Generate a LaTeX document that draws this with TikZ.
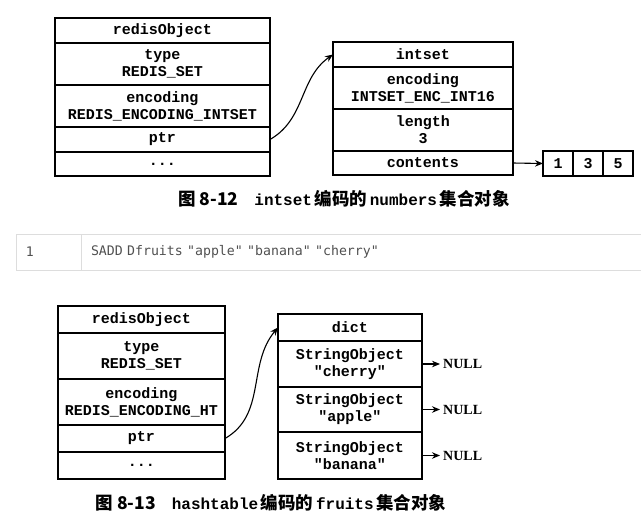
\documentclass[tikz,border=0pt]{standalone}
\usepackage{fontspec}
\setmonofont{Liberation Mono}
\newfontfamily\cjk{Noto Sans CJK SC}
\newfontfamily\codefont{DejaVu Sans Mono}
\newfontfamily\nilfont{Liberation Serif}
\usetikzlibrary{arrows.meta, positioning}
\definecolor{codegray}{HTML}{DDDDDD}
\definecolor{codetext}{HTML}{505050}
\newcommand{\Caption}[1]{{\cjk\bfseries\fontsize{17.5}{19}\selectfont #1}}
\tikzset{
    field/.style={draw, line width=1.3pt, inner sep=0pt, outer sep=0pt, align=center,
      font=\ttfamily\bfseries\fontsize{15}{17}\selectfont},
    codecell/.style={draw=codegray, line width=1pt, inner ysep=0pt, inner xsep=10pt,
      outer sep=0pt, minimum height=36pt, align=left, text=codetext,
      font=\codefont\fontsize{13.2}{15}\selectfont},
    nil/.style={inner sep=3pt, font=\nilfont\bfseries\fontsize{14}{16}\selectfont},
    caption/.style={font=\ttfamily\bfseries\fontsize{16}{18}\selectfont},
}

\begin{document}
\begin{tikzpicture}[x=1pt, y=-1pt, >={Stealth[length=8pt, width=6.5pt]}]
    \useasboundingbox (0,0) rectangle (641,523);

    % intset encoded set
    \node[field, minimum width=215pt, minimum height=25pt, anchor=north west] (o1) at (55,18) {redisObject};
    \node[field, minimum width=215pt, minimum height=42pt, below=0pt of o1] (o1type) {type\\REDIS\_SET};
    \node[field, minimum width=215pt, minimum height=42pt, below=0pt of o1type] (o1enc) {encoding\\REDIS\_ENCODING\_INTSET};
    \node[field, minimum width=215pt, minimum height=25pt, below=0pt of o1enc] (o1ptr) {ptr};
    \node[field, minimum width=215pt, minimum height=24pt, below=0pt of o1ptr] (o1dots) {...};

    \node[field, minimum width=180pt, minimum height=25pt, anchor=north west] (is) at (333,42) {intset};
    \node[field, minimum width=180pt, minimum height=42pt, below=0pt of is] (isenc) {encoding\\INTSET\_ENC\_INT16};
    \node[field, minimum width=180pt, minimum height=42pt, below=0pt of isenc] (islen) {length\\3};
    \node[field, minimum width=180pt, minimum height=24pt, below=0pt of islen] (iscont) {contents};

    \node[field, minimum width=30pt, minimum height=25pt, anchor=north west] (n1) at (543,151) {1};
    \node[field, minimum width=30pt, minimum height=25pt, right=0pt of n1] (n3) {3};
    \node[field, minimum width=30pt, minimum height=25pt, right=0pt of n3] (n5) {5};

    \draw[line width=1.1pt] (o1ptr.east) edge[->, out=30, in=215] (is.west);
    \draw[line width=1.1pt] (iscont.east) edge[->] (n1.west);

    \node[caption] (cap1) at (344,199) {\Caption{图 8-12}\hspace{1em}intset\,\Caption{编码的}\,numbers\,\Caption{集合对象}};

    % command
    \node[codecell, text width=45pt, anchor=north west] (gutter) at (16,234) {1};
    \node[codecell, text width=555pt, right=0pt of gutter] (code) {SADD Dfruits "apple" "banana" "cherry"};

    % hashtable encoded set
    \node[field, minimum width=167pt, minimum height=27pt, anchor=north west] (o2) at (58,306) {redisObject};
    \node[field, minimum width=167pt, minimum height=46pt, below=0pt of o2] (o2type) {type\\REDIS\_SET};
    \node[field, minimum width=167pt, minimum height=46pt, below=0pt of o2type] (o2enc) {encoding\\REDIS\_ENCODING\_HT};
    \node[field, minimum width=167pt, minimum height=27pt, below=0pt of o2enc] (o2ptr) {ptr};
    \node[field, minimum width=167pt, minimum height=27pt, below=0pt of o2ptr] (o2dots) {...};

    \node[field, minimum width=144pt, minimum height=27pt, anchor=north west] (dict) at (278,314) {dict};
    \node[field, minimum width=144pt, minimum height=46pt, below=0pt of dict] (cherry) {StringObject\\"cherry"};
    \node[field, minimum width=144pt, minimum height=45pt, below=0pt of cherry] (apple) {StringObject\\"apple"};
    \node[field, minimum width=144pt, minimum height=47pt, below=0pt of apple] (banana) {StringObject\\"banana"};

    \node[nil, right=18pt of cherry] (nil1) {NULL};
    \node[nil, right=18pt of apple] (nil2) {NULL};
    \node[nil, right=18pt of banana] (nil3) {NULL};

    \draw[line width=1.1pt] (o2ptr.east) edge[->, out=30, in=230] (dict.west);
    \draw[line width=1.1pt] (cherry.east) edge[->] (nil1.west);
    \draw[line width=1.1pt] (apple.east) edge[->] (nil2.west);
    \draw[line width=1.1pt] (banana.east) edge[->] (nil3.west);

    \node[caption] (cap2) at (271,503) {\Caption{图 8-13}\hspace{1em}hashtable\,\Caption{编码的}\,fruits\,\Caption{集合对象}};
\end{tikzpicture}
\end{document}
